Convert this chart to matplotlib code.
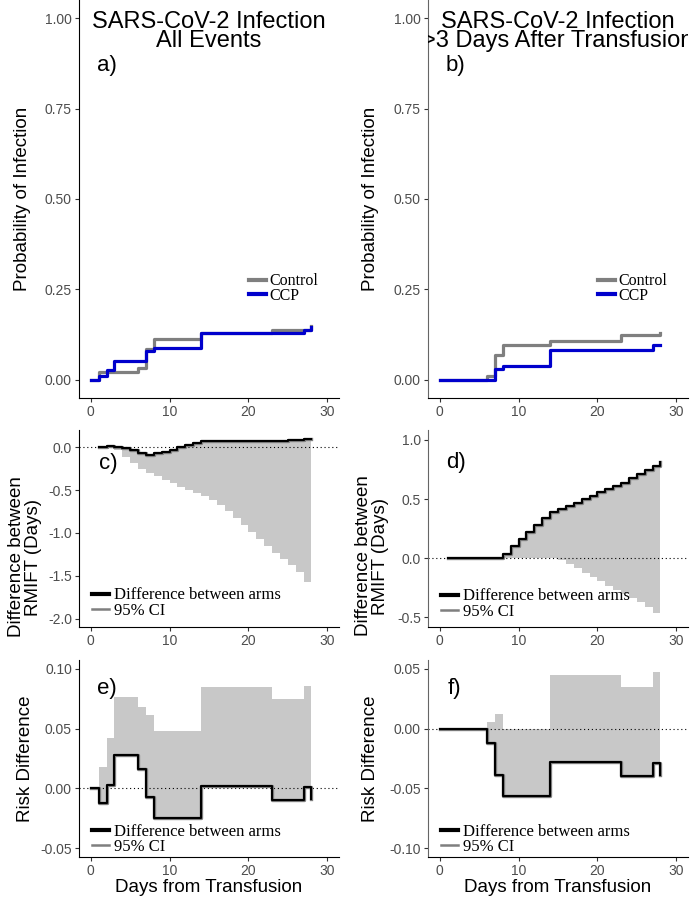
import matplotlib
matplotlib.use("Agg")
import matplotlib.pyplot as plt
from matplotlib.lines import Line2D

plt.rcParams['font.family'] = ['Liberation Sans', 'DejaVu Sans']
plt.rcParams['axes.unicode_minus'] = False

# a) cumulative incidence, all events
a_ctrl_days = [0, 1, 6, 7, 8, 14, 23, 28]
a_ctrl_prob = [0, 0.023, 0.034, 0.086, 0.114, 0.130, 0.139, 0.150]
a_ccp_days = [0, 1, 2, 3, 7, 8, 14, 27, 28]
a_ccp_prob = [0, 0.011, 0.026, 0.053, 0.079, 0.088, 0.131, 0.139, 0.147]

# b) cumulative incidence, >3 days after transfusion
b_ctrl_days = [0, 6, 7, 8, 14, 23, 28]
b_ctrl_prob = [0, 0.011, 0.069, 0.096, 0.108, 0.124, 0.130]
b_ccp_days = [0, 7, 8, 14, 27, 28]
b_ccp_prob = [0, 0.030, 0.039, 0.083, 0.096, 0.096]

# c) / d) difference in restricted mean infection-free time
rmift_days = list(range(1, 29))
c_diff = [0.005, 0.012, 0.005, -0.015, -0.04, -0.065, -0.09, -0.075, -0.055, -0.03,
          -0.005, 0.02, 0.045, 0.07, 0.072, 0.072, 0.071, 0.07, 0.069, 0.068,
          0.067, 0.066, 0.066, 0.07, 0.077, 0.084, 0.091, 0.097]
c_lower = [0.005, 0.0, -0.04, -0.12, -0.19, -0.25, -0.30, -0.34, -0.38, -0.42,
           -0.46, -0.50, -0.54, -0.57, -0.62, -0.68, -0.75, -0.83, -0.91, -0.99,
           -1.07, -1.15, -1.23, -1.30, -1.37, -1.45, -1.57, -1.58]
d_diff = [0, 0, 0, 0, 0, 0, 0.006, 0.04, 0.10, 0.165,
          0.22, 0.28, 0.34, 0.39, 0.42, 0.445, 0.47, 0.50, 0.53, 0.557,
          0.586, 0.613, 0.64, 0.678, 0.71, 0.745, 0.776, 0.81]
d_lower = [0, 0, 0, 0, 0, 0, 0, 0, 0, 0,
           0, 0, 0, 0, -0.015, -0.05, -0.085, -0.12, -0.16, -0.195,
           -0.23, -0.265, -0.30, -0.335, -0.37, -0.41, -0.465, -0.465]

# e) / f) risk difference
e_days = [0, 1, 2, 3, 6, 7, 8, 14, 23, 27, 28]
e_diff = [0, -0.0125, 0.003, 0.028, 0.016, -0.007, -0.025, 0.002, -0.0097, 0.001, -0.009]
e_upper = [0, 0.0175, 0.0425, 0.0764, 0.068, 0.0617, 0.0483, 0.0847, 0.0747, 0.0858, 0.0858]
f_days = [0, 6, 7, 8, 14, 23, 27, 28]
f_diff = [0, -0.012, -0.0387, -0.0566, -0.0277, -0.0398, -0.0286, -0.0385]
f_upper = [0, 0.0059, 0.012, 0.0, 0.045, 0.0347, 0.0473, 0.0473]

GRAY = '#7F7F7F'
BLUE = '#0000CC'
BAND = '#C8C8C8'
SERIF = ['Liberation Serif', 'DejaVu Serif']

fig = plt.figure(figsize=(6.9, 8.99), dpi=100)
lx, rx = 79 / 690, 428 / 690
w = 260 / 690
ax_a = fig.add_axes([lx, 0.5573, w, 0.4427])
ax_b = fig.add_axes([rx, 0.5573, w, 0.4427])
ax_c = fig.add_axes([lx, 0.3026, w, 0.2191])
ax_d = fig.add_axes([rx, 0.3026, w, 0.2191])
ax_e = fig.add_axes([lx, 0.0467, w, 0.2191])
ax_f = fig.add_axes([rx, 0.0467, w, 0.2191])


def style(ax, ylim, yticks, fmt, left_col=True):
    ax.set_xlim(-1.5, 31.5)
    ax.set_ylim(ylim)
    ax.set_xticks([0, 10, 20, 30])
    ax.set_yticks(yticks)
    ax.set_yticklabels([fmt % v for v in yticks])
    ax.spines['top'].set_visible(False)
    ax.spines['right'].set_visible(False)
    ax.spines['bottom'].set_color('black')
    ax.spines['left'].set_color('black' if left_col else '#666666')
    ax.tick_params(colors='#333333', labelcolor='#4D4D4D', labelsize=10,
                   length=2.9, width=0.8, pad=2.2)


def km_panel(ax, ctrl_x, ctrl_y, ccp_x, ccp_y, title, tag, left_col):
    ax.step(ctrl_x, ctrl_y, where='post', color=GRAY, lw=2.3)
    ax.step(ccp_x, ccp_y, where='post', color=BLUE, lw=2.3)
    style(ax, (-0.05, 1.05), [0, 0.25, 0.5, 0.75, 1.0], '%.2f', left_col)
    ax.text(15, 0.9625, title, ha='center', va='center', fontsize=17,
            linespacing=0.86, clip_on=True)
    ax.text(2, 0.87, tag, ha='center', va='center', fontsize=16)
    handles = [Line2D([], [], color=GRAY, lw=3), Line2D([], [], color=BLUE, lw=3)]
    ax.legend(handles, ['Control', 'CCP'], loc='center left',
              bbox_to_anchor=(0.652, 0.275), frameon=False, borderpad=0,
              borderaxespad=0, handlelength=1.1, handletextpad=0.2,
              labelspacing=-0.08, prop={'family': SERIF, 'size': 11.5})
    ax.set_ylabel('Probability of Infection', fontsize=13.5, va='center')


def diff_panel(ax, x, diff, lo, hi, legend_y):
    ax.axhline(0, color='black', ls=(0, (1, 2.5)), lw=0.8)
    ax.fill_between(x, lo, hi, step='post', color=BAND, lw=0)
    ax.step(x, diff, where='post', color='#808080', lw=2.4)
    ax.step(x, diff, where='post', color='black', lw=1.5)
    handles = [Line2D([], [], color='black', lw=3), Line2D([], [], color=GRAY, lw=1.8)]
    ax.legend(handles, ['Difference between arms', '95% CI'], loc='center left',
              bbox_to_anchor=(0.05, legend_y), frameon=False, borderpad=0,
              borderaxespad=0, handlelength=1.0, handletextpad=0.3,
              labelspacing=-0.05, prop={'family': SERIF, 'size': 12})


km_panel(ax_a, a_ctrl_days, a_ctrl_prob, a_ccp_days, a_ccp_prob,
         'SARS-CoV-2 Infection\nAll Events', 'a)', True)
km_panel(ax_b, b_ctrl_days, b_ctrl_prob, b_ccp_days, b_ccp_prob,
         'SARS-CoV-2 Infection\n>3 Days After Transfusion', 'b)', False)

diff_panel(ax_c, rmift_days, c_diff, c_lower, c_diff, 0.122)
style(ax_c, (-2.093, 0.198), [-2.0, -1.5, -1.0, -0.5, 0.0], '%.1f')
ax_c.text(2.2, -0.19, 'c)', ha='center', va='center', fontsize=16)

diff_panel(ax_d, rmift_days, d_diff, d_lower, d_diff, 0.117)
style(ax_d, (-0.58, 1.084), [-0.5, 0.0, 0.5, 1.0], '%.1f', False)
ax_d.text(2.1, 0.81, 'd)', ha='center', va='center', fontsize=16)

diff_panel(ax_e, e_days, e_diff, e_diff, e_upper, 0.089)
style(ax_e, (-0.0575, 0.1075), [-0.05, 0.0, 0.05, 0.10], '%.2f')
ax_e.text(2.0, 0.084, 'e)', ha='center', va='center', fontsize=16)

diff_panel(ax_f, f_days, f_diff, f_diff, f_upper, 0.089)
style(ax_f, (-0.1075, 0.0575), [-0.10, -0.05, 0.0, 0.05], '%.2f', False)
ax_f.text(1.8, 0.034, 'f)', ha='center', va='center', fontsize=16)

for ax in (ax_c, ax_d):
    ax.set_ylabel('Difference between\nRMIFT (Days)', fontsize=13.5, va='center',
                  linespacing=0.95)
for ax in (ax_e, ax_f):
    ax.set_ylabel('Risk Difference', fontsize=13.5, va='center')
    ax.set_xlabel('Days from Transfusion', fontsize=13.5, labelpad=1)

ax_a.yaxis.set_label_coords(-0.217, 0.5)
ax_b.yaxis.set_label_coords(-0.22, 0.5)
ax_c.yaxis.set_label_coords(-0.208, 0.355)
ax_d.yaxis.set_label_coords(-0.215, 0.36)
ax_e.yaxis.set_label_coords(-0.205, 0.5)
ax_f.yaxis.set_label_coords(-0.22, 0.5)

fig.savefig('out.png', dpi=100)
